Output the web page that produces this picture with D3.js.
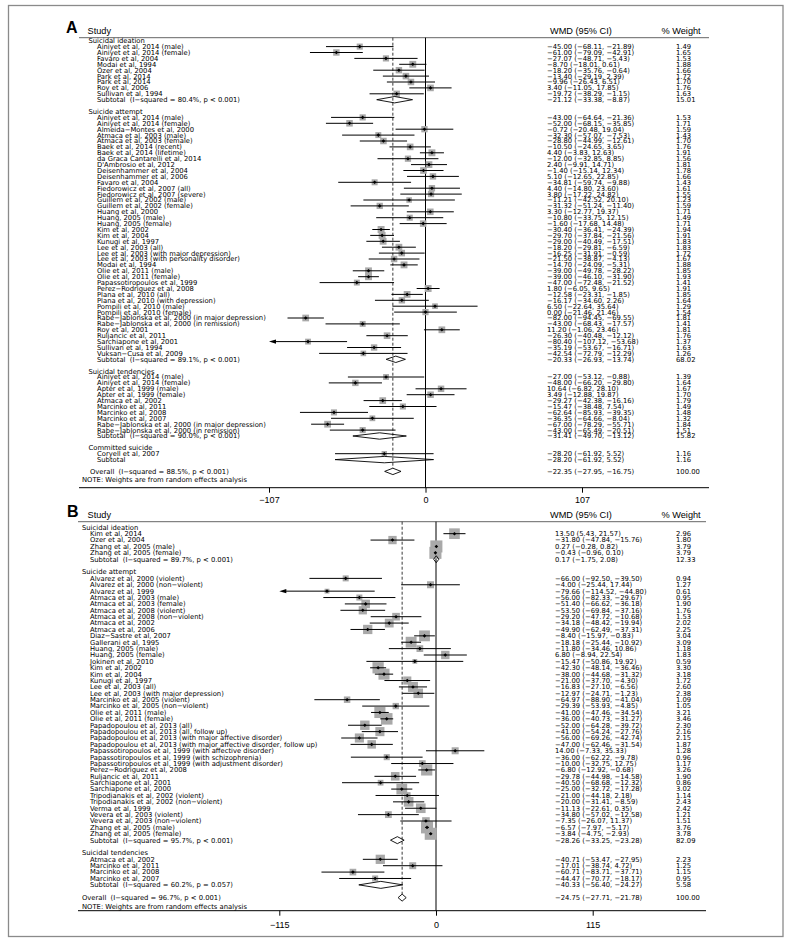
<!DOCTYPE html>
<html><head><meta charset="utf-8">
<script src="https://cdn.jsdelivr.net/npm/d3@7"></script>
<style>body{margin:0;background:#fff}svg{display:block}text{white-space:pre}</style>
</head><body>
<script>
// ===== Panel A data: [study, WMD, lower, upper, % weight] =====
const A_ideation = [
 ["Ainiyet et al, 2014 (male)", -45.00, -68.11, -21.89, 1.49],
 ["Ainiyet et al, 2014 (female)", -61.00, -79.09, -42.91, 1.65],
 ["Favaro et al, 2004", -27.07, -48.71, -5.43, 1.53],
 ["Modai et al, 1994", -8.70, -18.01, 0.61, 1.88],
 ["Özer et al, 2004", -18.20, -35.76, -0.64, 1.66],
 ["Park et al, 2014", -13.40, -29.19, 2.39, 1.72],
 ["Park et al, 2014", -9.96, -26.43, 6.51, 1.70],
 ["Roy et al, 2006", 3.40, -11.05, 17.85, 1.76],
 ["Sullivan et al, 1994", -19.72, -38.29, -1.15, 1.63]
];
const A_ideationSub = ["Subtotal  (I−squared = 80.4%, p < 0.001)", -21.12, -33.38, -8.87, 15.01];
const A_attempt = [
 ["Ainiyet et al, 2014 (male)", -43.00, -64.64, -21.36, 1.53],
 ["Ainiyet et al, 2014 (female)", -52.00, -68.15, -35.85, 1.71],
 ["Almeida−Montes et al, 2000", -0.72, -20.48, 19.04, 1.59],
 ["Atmaca et al, 2003 (male)", -32.30, -57.07, -7.53, 1.43],
 ["Atmaca et al, 2003 (female)", -28.80, -44.99, -12.61, 1.70],
 ["Baek et al, 2014 (recent)", -10.50, -24.65, 3.65, 1.76],
 ["Baek et al, 2014 (lifetime)", 4.40, -3.83, 12.63, 1.91],
 ["da Graca Cantarelli et al, 2014", -12.00, -32.85, 8.85, 1.56],
 ["D'Ambrosio et al, 2012", 2.40, -9.91, 14.71, 1.81],
 ["Deisenhammer et al, 2004", -1.40, -15.14, 12.34, 1.78],
 ["Deisenhammer et al, 2006", 5.10, -12.65, 22.85, 1.66],
 ["Favaro et al, 2004", -34.81, -59.74, -9.88, 1.43],
 ["Fiedorowicz et al, 2007 (all)", 4.40, -14.80, 23.60, 1.61],
 ["Fiedorowicz et al, 2007 (severe)", 3.80, -17.22, 24.82, 1.55],
 ["Guillem et al, 2002 (male)", -11.21, -42.52, 20.10, 1.23],
 ["Guillem et al, 2002 (female)", -31.32, -51.24, -11.40, 1.59],
 ["Huang et al, 2000", 3.30, -12.77, 19.37, 1.71],
 ["Huang, 2005 (male)", -10.80, -33.75, 12.15, 1.49],
 ["Huang, 2005 (female)", -1.60, -17.68, 14.48, 1.71],
 ["Kim et al, 2002", -30.40, -36.41, -24.39, 1.94],
 ["Kim et al, 2004", -29.70, -37.84, -21.56, 1.91],
 ["Kunugi et al, 1997", -29.00, -40.49, -17.51, 1.83],
 ["Lee et al, 2003 (all)", -18.20, -29.81, -6.59, 1.83],
 ["Lee et al, 2003 (with major depression)", -16.25, -31.91, -0.59, 1.72],
 ["Lee et al, 2003 (with personality disorder)", -21.50, -38.87, -4.13, 1.67],
 ["Modai et al, 1994", -14.70, -24.09, -5.31, 1.88],
 ["Olie et al, 2011 (male)", -39.00, -49.78, -28.22, 1.85],
 ["Olie et al, 2011 (female)", -39.00, -46.10, -31.90, 1.93],
 ["Papassotiropoulos et al, 1999", -47.00, -72.48, -21.52, 1.41],
 ["Perez−Rodriguez et al, 2008", 1.80, -6.05, 9.65, 1.91],
 ["Plana et al, 2010 (all)", -12.58, -23.31, -1.85, 1.85],
 ["Plana et al, 2010 (with depression)", -16.17, -34.60, 2.26, 1.64],
 ["Pompili et al, 2010 (male)", 6.50, -22.64, 35.64, 1.29],
 ["Pompili et al, 2010 (female)", 0.00, -21.46, 21.46, 1.54],
 ["Rabe−Jablonska et al, 2000 (in major depression)", -82.00, -94.45, -69.55, 1.81],
 ["Rabe−Jablonska et al, 2000 (in remission)", -43.00, -68.43, -17.57, 1.41],
 ["Roy et al, 2001", 11.20, -1.06, 23.46, 1.81],
 ["Ruljancic et al, 2011", -26.30, -40.48, -12.12, 1.76],
 ["Sarchiapone et al, 2001", -80.40, -107.12, -53.68, 1.37],
 ["Sullivan et al, 1994", -35.19, -53.67, -16.71, 1.63],
 ["Vuksan−Cusa et al, 2009", -42.54, -72.79, -12.29, 1.26]
];
const A_attemptSub = ["Subtotal  (I−squared = 89.1%, p < 0.001)", -20.33, -26.93, -13.74, 68.02];
const A_tendencies = [
 ["Ainiyet et al, 2014 (male)", -27.00, -53.12, -0.88, 1.39],
 ["Ainiyet et al, 2014 (female)", -48.00, -66.20, -29.80, 1.64],
 ["Apter et al, 1999 (male)", 10.64, -6.82, 28.10, 1.67],
 ["Apter et al, 1999 (female)", 3.49, -12.88, 19.87, 1.70],
 ["Atmaca et al, 2002", -29.27, -42.38, -16.16, 1.79],
 ["Marcinko et al, 2011", -15.47, -38.48, 7.54, 1.49],
 ["Marcinko et al, 2008", -62.64, -85.93, -39.35, 1.48],
 ["Marcinko et al, 2007", -36.35, -64.66, -8.04, 1.32],
 ["Rabe−Jablonska et al, 2000 (in major depression)", -67.00, -78.29, -55.71, 1.84],
 ["Rabe−Jablonska et al, 2000 (in remission)", -43.00, -65.49, -20.51, 1.51]
];
const A_tendenciesSub = ["Subtotal  (I−squared = 90.0%, p < 0.001)", -31.41, -49.70, -13.12, 15.82];
const A_committed = [["Coryell et al, 2007", -28.20, -61.92, 5.52, 1.16]];
const A_committedSub = ["Subtotal", -28.20, -61.92, 5.52, 1.16];
const A_overall = ["Overall  (I−squared = 88.5%, p < 0.001)", -22.35, -27.95, -16.75, 100.00];
const A_groupTitles = ["Suicidal ideation", "Suicide attempt", "Suicidal tendencies", "Committed suicide"];
const A_tickValues = [-107.12, 0, 107.12];
const A_tickLabels = ["−107", "0", "107"];

// ===== Panel B data =====
const B_ideation = [
 ["Kim et al, 2014", 13.50, 5.43, 21.57, 2.96],
 ["Ozer et al, 2004", -31.80, -47.84, -15.76, 1.80],
 ["Zhang et al, 2005 (male)", 0.27, -0.28, 0.82, 3.79],
 ["Zhang et al, 2005 (female)", -0.43, -0.96, 0.10, 3.79]
];
const B_ideationSub = ["Subtotal  (I−squared = 89.7%, p < 0.001)", 0.17, -1.75, 2.08, 12.33];
const B_attempt = [
 ["Alvarez et al, 2000 (violent)", -66.00, -92.50, -39.50, 0.94],
 ["Alvarez et al, 2000 (non−violent)", -4.00, -25.44, 17.44, 1.27],
 ["Alvarez et al, 1999", -79.66, -114.52, -44.80, 0.61],
 ["Atmaca et al, 2003 (male)", -56.00, -82.33, -29.67, 0.95],
 ["Atmaca et al, 2003 (female)", -51.40, -66.62, -36.18, 1.90],
 ["Atmaca et al, 2008 (violent)", -53.50, -69.84, -37.16, 1.76],
 ["Atmaca et al, 2008 (non−violent)", -29.20, -47.72, -10.68, 1.53],
 ["Atmaca et al, 2002", -34.18, -48.42, -19.94, 2.02],
 ["Atmaca et al, 2006", -49.90, -62.49, -37.31, 2.25],
 ["Diaz−Sastre et al, 2007", -8.40, -15.97, -0.83, 3.04],
 ["Gallerani et al, 1995", -18.18, -25.44, -10.92, 3.09],
 ["Huang, 2005 (male)", -11.80, -34.46, 10.86, 1.18],
 ["Huang, 2005 (female)", 6.80, -8.94, 22.54, 1.83],
 ["Jokinen et al, 2010", -15.47, -50.86, 19.92, 0.59],
 ["Kim et al, 2002", -42.30, -48.14, -36.46, 3.30],
 ["Kim et al, 2004", -38.00, -44.68, -31.32, 3.18],
 ["Kunugi et al, 1997", -21.00, -37.70, -4.30, 1.72],
 ["Lee et al, 2003 (all)", -16.83, -27.10, -6.56, 2.60],
 ["Lee et al, 2003 (with major depression)", -12.97, -24.71, -1.23, 2.38],
 ["Marcinko et al, 2005 (violent)", -64.97, -88.90, -41.04, 1.09],
 ["Marcinko et al, 2005 (non−violent)", -29.39, -53.93, -4.85, 1.05],
 ["Olie et al, 2011 (male)", -41.00, -47.46, -34.54, 3.21],
 ["Olie et al, 2011 (female)", -36.00, -40.73, -31.27, 3.46],
 ["Papadopoulou et al, 2013 (all)", -52.00, -64.28, -39.72, 2.30],
 ["Papadopoulou et al, 2013 (all, follow up)", -41.00, -54.24, -27.76, 2.16],
 ["Papadopoulou et al, 2013 (with major affective disorder)", -56.00, -69.26, -42.74, 2.15],
 ["Papadopoulou et al, 2013 (with major affective disorder, follow up)", -47.00, -62.46, -31.54, 1.87],
 ["Papassotiropoulos et al, 1999 (with affective disorder)", 14.00, -7.33, 35.33, 1.28],
 ["Papassotiropoulos et al, 1999 (with schizophrenia)", -36.00, -62.22, -9.78, 0.96],
 ["Papassotiropoulos et al, 1999 (with adjustment disorder)", -10.00, -32.75, 12.75, 1.17],
 ["Perez−Rodriguez et al, 2008", -6.80, -12.92, -0.68, 3.26],
 ["Ruljancic et al, 2011", -29.78, -44.98, -14.58, 1.90],
 ["Sarchiapone et al, 2001", -40.50, -68.68, -12.32, 0.86],
 ["Sarchiapone et al, 2000", -25.00, -32.72, -17.28, 3.02],
 ["Tripodianakis et al, 2002 (violent)", -21.00, -44.18, 2.18, 1.14],
 ["Tripodianakis et al, 2002 (non−violent)", -20.00, -31.41, -8.59, 2.43],
 ["Verma et al, 1999", -11.13, -22.61, 0.35, 2.42],
 ["Vevera et al, 2003 (violent)", -34.80, -57.02, -12.58, 1.21],
 ["Vevera et al, 2003 (non−violent)", -7.35, -26.07, 11.37, 1.51],
 ["Zhang et al, 2005 (male)", -6.57, -7.97, -5.17, 3.76],
 ["Zhang et al, 2005 (female)", -3.84, -4.75, -2.93, 3.78]
];
const B_attemptSub = ["Subtotal  (I−squared = 95.7%, p < 0.001)", -28.26, -33.25, -23.28, 82.09];
const B_tendencies = [
 ["Atmaca et al, 2002", -40.71, -53.47, -27.95, 2.23],
 ["Marcinko et al, 2011", -17.01, -38.74, 4.72, 1.25],
 ["Marcinko et al, 2008", -60.71, -83.71, -37.71, 1.15],
 ["Marcinko et al, 2007", -44.47, -70.77, -18.17, 0.95]
];
const B_tendenciesSub = ["Subtotal  (I−squared = 60.2%, p = 0.057)", -40.33, -56.40, -24.27, 5.58];
const B_overall = ["Overall  (I−squared = 96.7%, p < 0.001)", -24.75, -27.71, -21.78, 100.00];
const B_groupTitles = ["Suicidal ideation", "Suicide attempt", "Suicidal tendencies"];
const B_tickValues = [-114.52, 0, 114.52];
const B_tickLabels = ["−115", "0", "115"];

const headers = ["Study", "WMD (95% CI)", "% Weight"];
const noteText = "NOTE: Weights are from random effects analysis";

// ===== drawing =====
const svg = d3.select("body").append("svg").attr("width", 791).attr("height", 948);
svg.append("rect").attr("x", 8.5).attr("y", 5.5).attr("width", 774.5).attr("height", 931)
  .attr("fill", "none").attr("stroke", "#8a8a8a").attr("stroke-width", 1.3);

const f2 = d3.format(".2f");
const fmt = v => f2(v).replace("-", "−");
const ROWFONT = "DejaVu Sans, Verdana, sans-serif";
const HDRFONT = "Liberation Sans, Arial, Helvetica, sans-serif";

function drawPanel(cfg, titles, groups, subs, overall, tickVals, tickLabels) {
  const g = svg.append("g");
  const x = d3.scaleLinear().domain([tickVals[0], tickVals[2]]).range([cfg.xMin, cfg.xMax]);
  const rows = [];
  groups.forEach((st, i) => {
    rows.push({type: "header", label: titles[i]});
    st.forEach(s => rows.push({type: "study", label: s[0], es: s[1], lo: s[2], hi: s[3], w: s[4]}));
    const sb = subs[i];
    rows.push({type: "sub", label: sb[0], es: sb[1], lo: sb[2], hi: sb[3], w: sb[4]});
    rows.push({type: "blank"});
  });
  rows.push({type: "overall", label: overall[0], es: overall[1], lo: overall[2], hi: overall[3], w: overall[4]});
  rows.forEach((r, i) => r.y = cfg.row0 + i * cfg.pitch);
  const overallRow = rows[rows.length - 1];
  const noteY = overallRow.y + cfg.pitch + cfg.noteGap;

  g.append("text").attr("x", cfg.letterX).attr("y", cfg.letterY).text(cfg.letter)
    .attr("font-family", HDRFONT).attr("font-weight", "bold").attr("font-size", 16);
  g.append("text").attr("x", cfg.studyHX).attr("y", cfg.titleY).text(headers[0])
    .attr("font-family", HDRFONT).attr("font-size", 9.2);
  g.append("text").attr("x", cfg.wmdHX).attr("y", cfg.titleY).text(headers[1])
    .attr("font-family", HDRFONT).attr("font-size", 9.2);
  g.append("text").attr("x", cfg.wHX).attr("y", cfg.titleY).text(headers[2])
    .attr("font-family", HDRFONT).attr("font-size", 9.2);
  g.append("line").attr("x1", cfg.lineX0).attr("x2", cfg.lineX1)
    .attr("y1", cfg.headLineY).attr("y2", cfg.headLineY).attr("stroke", "#555").attr("stroke-width", 0.9);

  g.append("line").attr("x1", x(0)).attr("x2", x(0)).attr("y1", cfg.headLineY).attr("y2", cfg.axisY)
    .attr("stroke", "#000").attr("stroke-width", 1);
  g.append("line").attr("x1", x(overallRow.es)).attr("x2", x(overallRow.es))
    .attr("y1", cfg.headLineY).attr("y2", overallRow.y - cfg.diaH)
    .attr("stroke", "#222").attr("stroke-width", 0.9).attr("stroke-dasharray", "3,2");

  g.append("line").attr("x1", cfg.lineX0).attr("x2", cfg.lineX1).attr("y1", cfg.axisY).attr("y2", cfg.axisY)
    .attr("stroke", "#000").attr("stroke-width", 1);
  const ax = g.append("g").attr("transform", `translate(0,${cfg.axisY})`)
    .call(d3.axisBottom(x).tickValues(tickVals).tickFormat((d, i) => tickLabels[i]).tickSize(5).tickSizeOuter(0));
  ax.select(".domain").remove();
  ax.selectAll("line").attr("stroke", "#000");
  ax.selectAll("text").attr("font-family", HDRFONT).attr("font-size", 9).attr("fill", "#000")
    .attr("dy", null).attr("y", cfg.tickLabelDy);

  rows.forEach(r => {
    if (r.type === "blank") return;
    const tx = r.type === "header" ? cfg.hdrX : r.type === "overall" ? cfg.overallX : cfg.studyX;
    g.append("text").attr("x", tx).attr("y", r.y + 2.4).text(r.label)
      .attr("font-family", ROWFONT).attr("font-size", cfg.fs);
    if (r.type === "header") return;
    g.append("text").attr("x", cfg.wmdX).attr("y", r.y + 2.4)
      .text(`${fmt(r.es)} (${fmt(r.lo)}, ${fmt(r.hi)})`)
      .attr("font-family", ROWFONT).attr("font-size", cfg.fs);
    g.append("text").attr("x", cfg.wX).attr("y", r.y + 2.4).text(f2(r.w))
      .attr("font-family", ROWFONT).attr("font-size", cfg.fs);
  });
  g.append("text").attr("x", cfg.noteX).attr("y", noteY + 2.4).text(noteText)
    .attr("font-family", ROWFONT).attr("font-size", cfg.fs);

  const studies = rows.filter(r => r.type === "study");
  g.selectAll("rect.box").data(studies).join("rect").attr("class", "box")
    .attr("x", d => x(d.es) - cfg.boxK * Math.sqrt(d.w) / 2)
    .attr("y", d => d.y - cfg.boxK * Math.sqrt(d.w) / 2)
    .attr("width", d => cfg.boxK * Math.sqrt(d.w))
    .attr("height", d => cfg.boxK * Math.sqrt(d.w))
    .attr("fill", "#a9a9a9");
  const lo = tickVals[0];
  studies.forEach(d => {
    const clipped = d.lo <= lo + 0.01;
    const xs = clipped ? x(lo) + 6 : x(d.lo);
    g.append("line").attr("x1", xs).attr("x2", x(d.hi)).attr("y1", d.y).attr("y2", d.y)
      .attr("stroke", "#000").attr("stroke-width", 1);
    if (clipped) {
      g.append("path").attr("d", `M${x(lo)},${d.y}L${x(lo) + 7},${d.y - 2.2}L${x(lo) + 7},${d.y + 2.2}Z`)
        .attr("fill", "#000");
    }
    const px = x(d.es), h = 1.8;
    g.append("path").attr("d", `M${px - h},${d.y}L${px},${d.y - h}L${px + h},${d.y}L${px},${d.y + h}Z`)
      .attr("fill", "#000");
  });
  rows.filter(r => r.type === "sub" || r.type === "overall").forEach(d => {
    g.append("path")
      .attr("d", `M${x(d.lo)},${d.y}L${x(d.es)},${d.y - cfg.diaH}L${x(d.hi)},${d.y}L${x(d.es)},${d.y + cfg.diaH}Z`)
      .attr("fill", "none").attr("stroke", "#000").attr("stroke-width", 0.9);
  });
}

drawPanel({
  letter: "A", letterX: 66, letterY: 33.3, studyHX: 87.5, wmdHX: 550, wHX: 661.5, titleY: 34,
  headLineY: 37.7, row0: 40.7, pitch: 5.9, hdrX: 88.5, studyX: 97, overallX: 90, noteX: 82, noteGap: 2.6,
  axisY: 487.7, tickLabelDy: 15.3, xMin: 269, xMax: 582, wmdX: 547, wX: 676,
  boxK: 5.0, diaH: 3.2, fs: 6.8, lineX0: 79, lineX1: 709
}, A_groupTitles, [A_ideation, A_attempt, A_tendencies, A_committed],
   [A_ideationSub, A_attemptSub, A_tendenciesSub, A_committedSub], A_overall, A_tickValues, A_tickLabels);

drawPanel({
  letter: "B", letterX: 67, letterY: 516.7, studyHX: 87.5, wmdHX: 550, wHX: 661.5, titleY: 517.5,
  headLineY: 521.7, row0: 527.3, pitch: 6.385, hdrX: 82, studyX: 90, overallX: 82, noteX: 82, noteGap: 2.8,
  axisY: 910.7, tickLabelDy: 17, xMin: 279.3, xMax: 592.7, wmdX: 555, wX: 676,
  boxK: 6.2, diaH: 3.5, fs: 6.8, lineX0: 78, lineX1: 706
}, B_groupTitles, [B_ideation, B_attempt, B_tendencies],
   [B_ideationSub, B_attemptSub, B_tendenciesSub], B_overall, B_tickValues, B_tickLabels);
</script>
</body></html>
